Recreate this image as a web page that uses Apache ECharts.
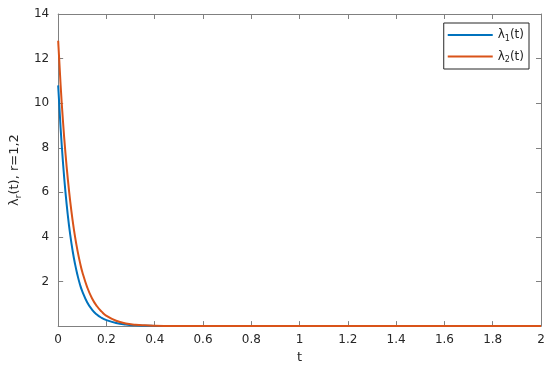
<!DOCTYPE html>
<html><head><meta charset="utf-8">
<script src="https://cdn.jsdelivr.net/npm/echarts@6/dist/echarts.min.js"></script>
<style>html,body{margin:0;padding:0;background:#fff}#c{width:550px;height:369px}</style>
</head><body><div id="c"></div>
<script>
var tValues = [0, 0.01, 0.02, 0.03, 0.04, 0.05, 0.06, 0.07, 0.08, 0.09, 0.10, 0.12, 0.14, 0.16, 0.18, 0.20, 0.24, 0.28, 0.32, 0.36, 0.40, 0.45, 0.50, 0.60, 0.80, 1.0, 1.2, 1.4, 1.6, 1.8, 2.0];
var lambda1 = [10.8, 8.90, 7.33, 6.03, 4.97, 4.09, 3.37, 2.78, 2.29, 1.88, 1.56, 1.07, 0.74, 0.52, 0.37, 0.27, 0.14, 0.07, 0.035, 0.018, 0.010, 0.004, 0.002, 0.0005, 0, 0, 0, 0, 0, 0, 0];
var lambda2 = [12.8, 10.84, 9.18, 7.78, 6.59, 5.58, 4.73, 4.00, 3.39, 2.87, 2.43, 1.75, 1.25, 0.90, 0.65, 0.46, 0.24, 0.12, 0.063, 0.033, 0.017, 0.0073, 0.003, 0.0006, 0, 0, 0, 0, 0, 0, 0];
var xTicks = [0, 0.2, 0.4, 0.6, 0.8, 1, 1.2, 1.4, 1.6, 1.8, 2];
var yTicks = [2, 4, 6, 8, 10, 12, 14];
var seriesNames = ['λ1(t)', 'λ2(t)'];

function pairs(xs, ys){ return xs.map(function(x,i){ return [x, ys[i]]; }); }
var axisCol = '#808080', txtCol = '#262626';
var font = 'DejaVu Sans, sans-serif';
var chart = echarts.init(document.getElementById('c'));
var sub = {
  a: {fontSize: 12, fontFamily: font, color: txtCol},
  s: {fontSize: 8, fontFamily: font, color: txtCol, padding: [7, 0, 0, 0]}
};
chart.setOption({
  animation: false,
  backgroundColor: '#fff',
  grid: {left: 58, right: 9, top: 14, bottom: 42},
  legend: {
    orient: 'vertical', right: 21, top: 23,
    data: seriesNames.map(function(n){ return {name: n, icon: 'rect'}; }),
    backgroundColor: '#fff', borderColor: '#262626', borderWidth: 1,
    padding: [6, 5, 5, 4], itemGap: 8, itemWidth: 45, itemHeight: 2,
    formatter: function(n){ return '{a|λ}{s|' + n.charAt(1) + '}{a|(t)}'; },
    textStyle: {rich: sub, fontFamily: font}
  },
  xAxis: [{
    type: 'value', min: 0, max: 2, interval: 0.2,
    name: 't', nameLocation: 'middle', nameGap: 24,
    nameTextStyle: {fontSize: 13, color: txtCol, fontFamily: font},
    axisLine: {show: true, lineStyle: {color: axisCol}},
    axisTick: {inside: true, length: 5, lineStyle: {color: axisCol}},
    axisLabel: {color: txtCol, fontSize: 12, fontFamily: font, margin: 8,
      formatter: function(v){ return String(Math.round(v*10)/10); }},
    splitLine: {show: false}
  }, {
    type: 'value', min: 0, max: 2, interval: 0.2, position: 'top',
    axisLine: {show: true, onZero: false, lineStyle: {color: axisCol}},
    axisTick: {inside: true, length: 5, lineStyle: {color: axisCol}},
    axisLabel: {show: false}, splitLine: {show: false}
  }],
  yAxis: [{
    type: 'value', min: 0, max: 14, interval: 2,
    name: '{a|λ}{s|r}{a|(t), r=1,2}', nameLocation: 'middle', nameGap: 34, nameRotate: 90,
    nameTextStyle: {rich: {
      a: {fontSize: 13, fontFamily: font, color: txtCol},
      s: {fontSize: 9, fontFamily: font, color: txtCol, padding: [8, 0, 0, 0]}
    }},
    axisLine: {show: true, lineStyle: {color: axisCol}},
    axisTick: {inside: true, length: 5, lineStyle: {color: axisCol}},
    axisLabel: {color: txtCol, fontSize: 12, fontFamily: font, margin: 9,
      formatter: function(v){ return v === 0 ? '' : String(v); }},
    splitLine: {show: false}
  }, {
    type: 'value', min: 0, max: 14, interval: 2, position: 'right',
    axisLine: {show: true, onZero: false, lineStyle: {color: axisCol}},
    axisTick: {inside: true, length: 5, lineStyle: {color: axisCol}},
    axisLabel: {show: false}, splitLine: {show: false}
  }],
  series: [{
    name: seriesNames[0], type: 'line', smooth: true, symbol: 'none',
    data: pairs(tValues, lambda1), lineStyle: {color: '#0072BD', width: 2}, itemStyle: {color: '#0072BD'}
  }, {
    name: seriesNames[1], type: 'line', smooth: true, symbol: 'none',
    data: pairs(tValues, lambda2), lineStyle: {color: '#D95319', width: 2}, itemStyle: {color: '#D95319'}
  }]
});
</script></body></html>
